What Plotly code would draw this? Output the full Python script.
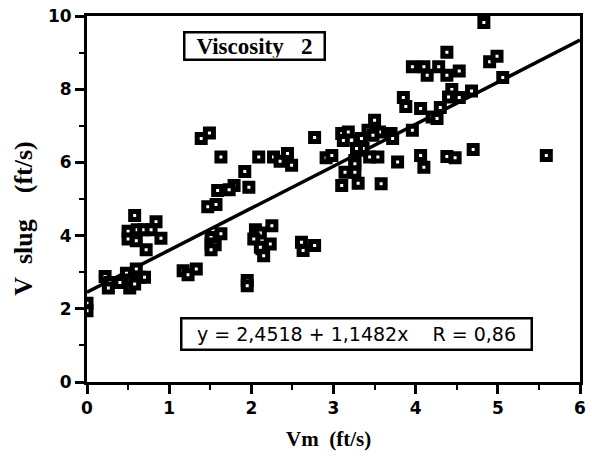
import plotly.graph_objects as go

# Data (Vm in ft/s, V slug in ft/s)
vm = [
    0.00, 0.00,
    0.22, 0.28, 0.26, 0.40, 0.48, 0.52, 0.52, 0.60, 0.64, 0.70, 0.58,
    0.58, 0.84, 0.50, 0.61, 0.69, 0.78, 0.50, 0.60, 0.90, 0.72,
    1.47, 1.57, 1.51, 1.63, 1.51, 1.56, 1.51,
    2.05, 2.11, 2.25, 2.03, 2.23, 2.13, 2.15, 2.11,
    1.17, 1.23, 1.33, 1.95, 1.95,
    2.61, 2.63, 2.77,
    1.39, 1.49, 1.63, 2.09, 2.27, 2.35, 2.44, 2.49, 1.92, 1.97, 1.79, 1.73, 1.59,
    2.77, 2.91, 2.98, 3.10, 3.18, 3.12, 3.10, 3.14, 3.26, 3.30, 3.26, 3.32,
    3.42, 3.44, 3.34, 3.50, 3.58,
    4.83, 4.38, 3.96, 4.10, 4.28, 4.14, 4.38, 4.53, 4.90, 4.99, 5.06,
    4.44, 4.40, 4.53, 4.68, 3.85, 3.88, 4.06, 4.30, 4.20, 4.26, 3.96,
    3.56, 3.48, 3.70, 3.72, 3.34, 3.32, 3.36, 3.28, 3.54, 3.78,
    4.06, 4.10, 4.38, 4.48, 4.70, 5.59, 3.26,
]
vslug = [
    2.15, 1.95,
    2.88, 2.72, 2.57, 2.72, 2.97, 2.79, 2.57, 3.09, 2.86, 2.86, 2.68,
    4.55, 4.38, 4.12, 4.16, 4.16, 4.16, 3.91, 3.86, 3.93, 3.61,
    4.79, 4.85, 3.95, 4.05, 3.77, 3.75, 3.61,
    4.16, 4.07, 4.27, 3.91, 3.77, 3.64, 3.45, 3.68,
    3.04, 2.93, 3.09, 2.77, 2.63,
    3.82, 3.59, 3.73,
    6.65, 6.80, 6.15, 6.15, 6.15, 6.03, 6.24, 5.92, 5.75, 5.32, 5.37, 5.25, 5.23,
    6.68, 6.13, 6.19, 6.79, 6.83, 6.60, 5.37, 5.73, 5.73, 5.43, 6.05, 6.60,
    6.88, 6.15, 6.33, 7.15, 5.42,
    9.82, 9.01, 8.61, 8.61, 8.61, 8.38, 8.38, 8.50, 8.75, 8.90, 8.32,
    7.99, 7.79, 7.77, 7.95, 7.77, 7.53, 7.47, 7.50, 7.24, 7.20, 6.88,
    6.83, 6.74, 6.79, 6.65, 6.65, 6.42, 6.38, 6.38, 6.15, 6.01,
    6.19, 5.87, 6.16, 6.13, 6.35, 6.19, 5.96,
]

intercept = 2.4518
slope = 1.1482
fit_x = [0, 6]
fit_y = [intercept + slope * x for x in fit_x]

x_ticks = [0, 1, 2, 3, 4, 5, 6]
y_ticks = [0, 2, 4, 6, 8, 10]

NB = "\u00a0"
W, H = 592, 456
ML, MR, MT, MB = 87, 6, 16, 74
plot_w = W - ML - MR
plot_h = H - MT - MB


def px_to_paper(px, py):
    return (px - ML) / plot_w, 1 - (py - MT) / plot_h


fig = go.Figure()
fig.add_trace(go.Scatter(
    x=fit_x, y=fit_y, mode="lines",
    line=dict(color="black", width=3.5), showlegend=False, hoverinfo="skip",
))
fig.add_trace(go.Scatter(
    x=vm, y=vslug, mode="markers",
    marker=dict(symbol="square", size=8, color="white",
                line=dict(color="black", width=5)),
    showlegend=False,
))

tickfont = dict(family="DejaVu Sans, Arial, sans-serif", size=17, color="black")
serif = "Liberation Serif, Times New Roman, serif"

xt_x, xt_y = px_to_paper(331, 439)
yt_x, yt_y = px_to_paper(23, 218)

fig.update_layout(
    width=W, height=H,
    margin=dict(l=ML, r=MR, t=MT, b=MB),
    paper_bgcolor="white", plot_bgcolor="white",
    xaxis=dict(
        range=[0, 6], tickvals=x_ticks, ticktext=[f"<b>{v}</b>" for v in x_ticks],
        showgrid=False, zeroline=False,
        showline=True, linecolor="black", linewidth=3, mirror=True,
        ticks="outside", ticklen=9, tickwidth=2.5, tickcolor="black",
        minor=dict(dtick=0.5, ticks="outside", ticklen=5, tickwidth=2, tickcolor="black"),
        tickfont=tickfont,
    ),
    yaxis=dict(
        range=[0, 10], tickvals=y_ticks, ticktext=[f"<b>{v}</b>" for v in y_ticks],
        showgrid=False, zeroline=False,
        showline=True, linecolor="black", linewidth=3, mirror=True,
        ticks="outside", ticklen=9, tickwidth=2.5, tickcolor="black",
        minor=dict(dtick=1, ticks="outside", ticklen=5, tickwidth=2, tickcolor="black"),
        tickfont=tickfont,
    ),
    annotations=[
        # axis titles
        dict(x=xt_x, y=xt_y, xref="paper", yref="paper", showarrow=False,
             xanchor="center", yanchor="middle",
             text=f"<b>Vm{NB*2}(ft/s)</b>",
             font=dict(family=serif, size=21, color="black")),
        dict(x=yt_x, y=yt_y, xref="paper", yref="paper", showarrow=False,
             xanchor="center", yanchor="middle", textangle=-90,
             text=f"<b>V{NB*2}slug{NB*4}(ft/s)</b>",
             font=dict(family=serif, size=26, color="black")),
        # boxes
        dict(x=2.04, y=9.17, xref="x", yref="y", showarrow=False,
             xanchor="center", yanchor="middle",
             text=f"<b>Viscosity{NB*3}2</b>",
             font=dict(family=serif, size=23, color="black"),
             bordercolor="black", borderwidth=2.5, borderpad=1, bgcolor="white",
             width=136, height=23),
        dict(x=3.28, y=1.31, xref="x", yref="y", showarrow=False,
             xanchor="center", yanchor="middle",
             text=f"y = 2,4518 + 1,1482x{NB*4}R = 0,86",
             font=dict(family="DejaVu Sans, Arial, sans-serif", size=19, color="black"),
             bordercolor="black", borderwidth=2.5, borderpad=1, bgcolor="white",
             width=346, height=27),
    ],
)

fig.write_html("out.html")
